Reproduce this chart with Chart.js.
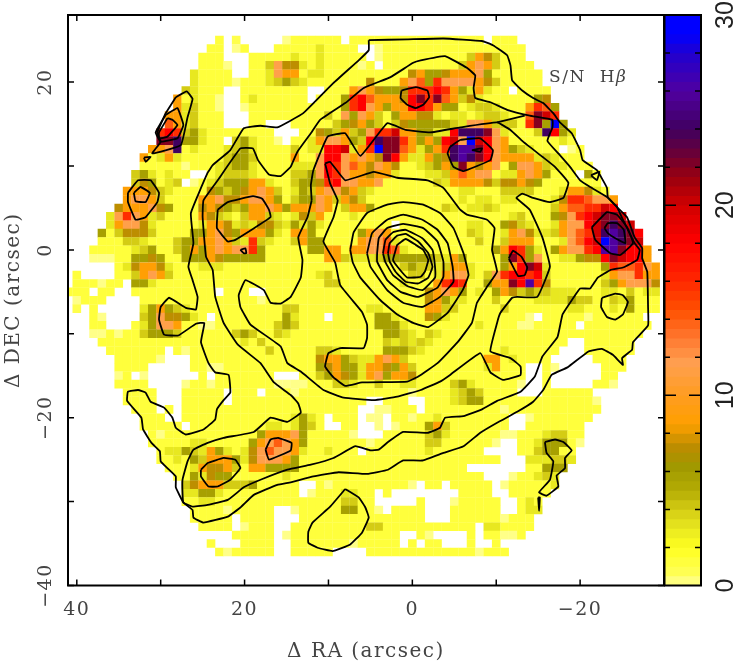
<!DOCTYPE html>
<html>
<head>
<meta charset="utf-8">
<title>S/N Hbeta</title>
<script src="https://cdn.jsdelivr.net/npm/chart.js@4/dist/chart.umd.min.js"></script>
<style>
body { margin: 0; background: #fff; }
#wrap { position: relative; width: 734px; height: 664px; }
canvas { position: absolute; top: 0; }
</style>
</head>
<body>
<div id="wrap">
<canvas id="map" width="734" height="664" style="left:0"></canvas>
<canvas id="bar" width="70" height="664" style="left:664px"></canvas>
</div>
<script>
// S/N levels, one letter per spaxel
const levelKeys = "abcdefghijklmnopq";
const levelValues = [0.2, 0.9, 1.3, 3, 4, 5.8, 7.3, 8.7, 11.5, 14, 15.8, 18, 20, 22, 24, 26, 29];

const firstRa = 41;
const firstDec = 25;
// rows run from DEC 25 down to -36, columns from RA 41 down to -29
const snRows = [
"... .......... .....c.b.. ...acccccc .ccccccccc ccccccc.cc c",
"... .......... ....cc.ac. ..cccccdcc cc..accccc cccccccccc cc",
"... .......... ...ccc...c ccccdccdcc ccc.accccc cccccehgec cc",
"... .......... ...ccca..c ceiggdcdcc ccac.ccccc ccccehihec ccc",
"... .......... ..dcccc..c cdihhcddcc ccccccccgh ffghhhifcc cccc",
"... .......... ..dccccacc cdefedcccc cccgccchij fkiiiihgec cccc",
"... .......... .edccc..cc cccccc..cc chihgffgkk klkhfdhdcc .cccc",
"... .......... hcdcca..cd cccccc.ccc fkljhhhgln knjhegdccc cccfg",
"... .......... hdecca..ac cccccccccc fklihfhhll khffcdeedc cchkjf",
"... .........h hdeccc...c ccccccccec ifihecfhhg gdcddcdeed ccjnmk",
"... .........j hdeccc...c c...ccccce fghfecegff fffediihee ecknfqf",
"... ........kl kefdcccccc cc...ccgfe hefikkmhhf fddlooonid ccceolfd",
"... ........nn offdcc.efd cca.ccdhii hfelonnkhf hflmiqmlih ccccccdc",
"... .......hhi ocdcccdefd ccccecddll mdhkqnnjhd fhkoppnlih fedccc.ac",
"... ......hcdh dccccceffe cccchccill ihihgnlhdd hfgoponlih hhhdedccc",
"... ......cccc cacccdeffd ccccdddilk ijhgihgccd efhfnhghic fiiheddccc",
"... .....efdcd cc..cdeeed cccceefilk ihhghhdccc ddehjhiicd dhihfccc.f c",
"... .....egfcd e.acdefffh hdcceffgkl iihhiccccc cedhhhhgeg ghgfcccccc c",
"... ....hhhged ccccgfefgh ihecdfehii ghedcccccc ccccddccce eeecccdhhg dc",
"... ....hiihec ccchhigghi ihfceffihe hgeccccccc ccccdcddcd dccccdgkkj iih",
"... ...ghhhigf cccghgfefh hihfhhhihc ehhfcccccc ccedcddedc cccccehjjk kml",
"... ..dikihdec ccchgedceh hedcdgehcc cdcccccccc cccccccccc decccfgikl mnnm",
"... ..dhiigdcc cccdhhgded ggedfdfdcc cccccc.ccc cccccddccf gedccdhiil mnonm",
"... .fcegggecc ccffhigfhh hfdchhfccc ccfhihcccc cccccedccd higddehijk moponl",
"... .ccceedccc effhhihedk edccehffcc cchiijdccc ccccccecce hhhcccdijl mqponm",
"... cccccdefcc efhfhihiik fcccccffhh chhiikjdcc ccccccccfh lkfdcfhiik lppnllh",
"... aaaccffgfc cfffhgffff fccccccchh edddefffff fedhfccccf nkficcddfg glnmllh",
"... ...cdghhgd cccdddcccc cccccccccc cccccccefe edehhdcccf hlnmdccccc cfkjjkih",
".c. ...ccehihe cccccccccc cccccccdec ccccccccee cdhiidceik llkleccccc cdhiikhh",
".cc cacc.ffdcc cccccccccc ccccccccee cccccccdcc chklkccfhh nlpkgccccc cefhiiig",
"ccc .cc..ccccc ccccc.ccc. .ccccccccc cccccccccc ghihfcdcfh gefeedddcc cddcecdd",
".ac cc....cccc cccccccccc accccccccc cccccccccc ghfddcccec cccddddfee ccedfccc",
".b. c.....dfhf edcccccccc ccceeccccc cccddccccc hheeccccce cccccccddc ccdcfccc",
"... ca....efig gfdc.ccccc cccfdccc.c ccccffdccc gfdccccccc cca.ccccca cccccc",
"... cc...cdfii hccaaccccc ccefeccccc ccccfffdcc ccccccdccc caaccccc.c ccccccc",
"... aacaccefff eccccccefe ccedcccccc cccccffedc edcccccccc cccccccccc cccccc",
"... .ccccccccc ccccccccdc eccccccccc cccccedede dccccccccc ccccccc..c ccccc",
"... ..ccccccc. cacccccccc ceccccceed cccccfffed cccccccccd cccccc...c ccccc",
"... ...ccccca. ..cccccccc cccccccghh feddhihecc ccccccchhc dcccc..... cccc",
"... ...cccc... ..ccaacccc cccccccfgh ffdhhgfhec cccccccdhc cc..ca.... .ccc",
"... ...ac.a... ...c.ccccc cc...ccefh gfdhifhhgc cccccccccc cc..c..... .cc",
"... ...cccc... .accaccccc ccaaaaccce edcceccddc cccefdcccc ca..c..... cca",
"... ....cccc.. .ccccc.ccc .cccaccccc ccccccccac cccdefeccc c...cccccc",
"... ....cccc.. .ccccc.ccc cccccccccc ccc..ccc.. cccdeffccc cccccccccc a",
"... .....ccc.c .ccccccccc cccccccccc cc..aaccc. ccccccccca cccccccccc c",
"... ......ccc. .ccccccccc ccccdfdc.c cc.aa.ccac cdcccccccc ..accccccc",
"... ......cccc c.cccccccc cddcdfec.. cc..a.accc fheccccccc ..ccccccc.",
"... .......cac cccccccccc fhhhifcccc ca...ccccc efdcccccca acccdeecc.",
"... .......ccc ccddcccccf hijihfcccc cccacccccc eecccccca. .ccdfffca.",
"... ........cd dfedhfdcdg ijiihdccdc cc.ccccccc dcccccc... .cceffcc..",
"... ........cc dcfehhhfdg iiihfccccc cccccccccc ccccccccc. ..dddeed..",
"... .........c ccdhgghech hffffccccc cccccccccc ccccc..... ..ccfff...",
"... .......... ccfdgffccc cccdcccccc cccccccccc ccccccc... accded....",
"... .......... .eghhheeef ccccc..cac cccccccca. cc.ccccc.a cccccd....",
"... .......... .ddffdcccc ccccc.accc ddcc.c.... ....cccc.. ccccc.....",
"... .......... .ccddccccc cccccccccc eecc.....c ...accccc. .cdc......",
"... .......... ..ccccaccc cc..accccc ffcca.cccc ...cccccc. .cdd......",
"... .......... ..ccccc.cc cc...ccccc cccccccccc ...cccccca ccc.......",
"... .......... ...cccc.ac cc..cccccc ccceeccccc cccccc.ddc ccc.......",
"... .......... .......ccc cc.acccccc ccccccc..c a....c.cca ac........",
"... .......... ....c...cc cc..cccccc caccccc.c. cc...c..c. ..........",
"... .......... .....caccc cc..ccccc. ...ccccccc ccccccaccc .........."
];

// contours, RA then DEC pairs in arcsec
const contourOuter = [5.2,25, 0.6,25.1, -3.7,25.2, -8.3,24.9, -9.6,24.4, -11.3,23.2, -11.7,22, -11.9,20.2, -13.1,19, -14.4,18.1, -15.6,17.5, -16.8,16.3, -17.6,15.2, -19,13.9, -20,11.9, -20.3,10.7, -22,9.5, -23.2,7.4, -23.3,6.3, -24.4,5.1, -25.6,3.9, -26.5,1.5, -27.4,0.2, -27.4,-1, -28,-2.6, -28.1,-6.8, -28.1,-9, -26.3,-11, -26.2,-11.9, -25,-12.9, -25.1,-13.7, -23.9,-12.5, -22.6,-11.8, -21,-12.1, -18.5,-14, -16.6,-14.9, -15.6,-16.7, -14.4,-18.1, -12.5,-19.3, -10.1,-20.6, -8.1,-21.8, -6.1,-23.4, -3.7,-24.2, -1.2,-25.1, 1.1,-25.1, 2.9,-26.2, 5.4,-26.7, 8.8,-26.5, 11.8,-27, 14.5,-27.7, 16.1,-28, 18.9,-29.2, 20.5,-30.7, 22,-31.8, 24.9,-32.5, 26.1,-31.9, 26.2,-31, 27.3,-30.1, 28.2,-28.3, 28.2,-27, 29.2,-26, 30,-25.2, 30.1,-24, 31.1,-23, 32.1,-21.4, 32.3,-20, 34,-18, 33.9,-16.9, 32.7,-16.7, 31.8,-17, 31.2,-18.1, 29.6,-18.8, 28.6,-20, 28.2,-21.2, 27,-22, 24.9,-21.4, 23.5,-20.2, 23.3,-19, 22.5,-17.9, 21.7,-17, 21.9,-14.9, 23.5,-14.6, 24.3,-13.5, 25.2,-11, 24.8,-8.7, 25.8,-8.8, 27.9,-10.2, 29.6,-10.1, 30.2,-8.3, 30,-6.8, 29,-5.7, 27,-6.9, 25.8,-7.1, 25.6,-5.6, 26.2,-3.6, 26.7,-2, 26.1,0.8, 26.4,4.4, 24.4,9.2, 23.8,10.1, 21.7,11.9, 20.1,14.5, 18.1,14.8, 16.1,14.6, 13,16.3, 9.4,19.9, 6.4,22.6, 5.2,23.8];
const contourSecond = [14.5,9.9, 13.7,11.7, 12.1,13.9, 11,15.5, 8,17.5, 5.8,19.3, 2.6,20.6, -0.1,22.3, -1,22.6, -3.9,23.1, -6.5,21.7, -7.5,20.8, -7.3,19.3, -7.5,18.1, -9.3,17.6, -11.3,16.7, -14,16, -16.7,15.5, -16.7,14.6, -16.1,13, -17.4,11.5, -18.8,9.9, -20,8.3, -21.2,7.5, -23.2,6.3, -24.4,5.1, -25.1,3.6, -26.5,0.8, -27.1,0, -26.8,-1.2, -25.1,-2.1, -23.6,-2.4, -22.1,-3.3, -21.2,-4.6, -20,-4.6, -19,-6, -17.9,-7.7, -17.3,-10.4, -15.5,-12.7, -14.6,-15.1, -12.9,-16.9, -10.1,-18, -8.3,-19, -6.1,-19.8, -3.9,-20, -3.3,-21.2, -1.8,-21.8, 1.1,-21.7, 2.9,-22.9, 4,-23.8, 5,-23.9, 6.8,-23.4, 9.4,-24.8, 12.1,-25.6, 14.9,-26.2, 18.1,-27.4, 20.1,-28.3, 22,-29.8, 24.4,-30.4, 26.2,-30.6, 27.3,-30.1, 27.4,-28.9, 27.4,-27.4, 26.8,-25.2, 26.1,-23.8, 24.4,-23, 22.5,-22.4, 18.9,-21.7, 16.9,-20, 14.9,-20.5, 13.3,-19.4, 13.6,-18.3, 14.5,-17.3, 16.5,-15.8, 18.1,-13.5, 20.8,-11.3, 22.5,-8.7, 23.5,-5.6, 23.8,-2.4, 24.6,-0.8, 25,3.9, 24.9,5.9, 23.2,8.3, 20.5,12.1, 19,12.1, 18.4,10.7, 17.1,9, 15.7,8.8];
const contourThird = [12,5.9, 12.5,3.9, 13.6,1.5, 13.1,-1.2, 13.3,-3.3, 14.5,-5.6, 15.7,-6.4, 16.9,-6.3, 17.7,-4.8, 19.9,-3.6, 20.7,-5.4, 20.5,-6.8, 19.3,-8.9, 15.7,-11.5, 14.9,-13.5, 13.3,-14.5, 10.6,-16.7, 8.2,-17.6, 4.6,-17.9, 1.8,-17.5, -1,-16.7, -3.3,-15.7, -4.5,-14.9, -8.1,-12.3, -9.3,-14.6, -10.8,-15.5, -12.9,-14.9, -12.9,-13.9, -11.7,-12.9, -9.3,-12.1, -10.1,-8.7, -10.5,-7.5, -11.9,-5.7, -12.5,-5.6, -14.9,-5.6, -16.4,-2, -15.5,1.5, -14,4.8, -12.4,6.2, -13.1,6.7, -14.4,6.2, -16.4,5.7, -18,6.2, -18.6,8, -17,9.9, -15.5,11.1, -13.2,12.9, -11.7,14.3, -10.1,15.2, -5.7,14.6, -2.1,14, 0.8,14.3, 3,15.1, 6.2,11.2, 8,13.9, 10.1,13.5, 11.8,9.5, 12.1,7.7];
const contourSpiral = [10.4,10.3, 9.8,10.5, 8,8.3, 4.6,9.3, 1.8,8.6, -1.8,8.3, -3.7,7.4, -5.7,4.8, -6.5,4.2, -8.9,3.6, -9.8,2.6, -9.5,0, -10.1,-2.6, -8.9,-4.4, -7.7,-6.3, -7.1,-8.7, -5.4,-11, -3,-13.5, -0.7,-15.1, 0.6,-15.7, 6,-15.8, 8,-16.2, 9.4,-15.2, 10.4,-13.9, 10,-12.3, 8.6,-11.7, 5.8,-11.7, 5.4,-10.5, 5.4,-8.9, 6,-7.4, 8.6,-4.2, 9.2,-1.5, 10.6,1, 9.4,3.9, 8.9,5.9, 9.8,7.9];
const ring1 = [7.4,0, 7,2.1, 5.4,4.4, 3,5.4, 1.1,5.7, -1.3,5.4, -3.3,4.4, -4.9,2.6, -6.1,-0.4, -6.7,-3, -6,-4.8, -4.2,-7.5, -1.9,-9.2, -0.1,-8.7, 1.8,-7.7, 3.8,-6, 6.2,-3.3, 7.1,-1.5];
const ring2 = [5.4,-0.4, 4.8,2, 3,3.6, 1.1,4.2, -1.2,3.6, -3,2.4, -4.2,0.8, -4.8,-2, -4.9,-3.8, -3.3,-5.6, -1.2,-6.8, 1.1,-6.3, 3,-4.8, 5,-2];
const ring3 = [4.2,-0.4, 4,1.4, 3,2.6, 1.1,3.1, -1.3,2.6, -3,1, -3.7,-1.4, -3.7,-3.2, -3,-4.5, -0.7,-5.6, 1.4,-5, 3,-3.6, 4.2,-1.4];
const ring4 = [3.5,-0.4, 3.2,1.2, 2.3,2.1, 0.8,2.4, -1.2,1.4, -2.4,0, -2.7,-2, -2.7,-3.3, -1.2,-4.8, 0.6,-4.3, 2.3,-3, 3.2,-1.5];
const ring5 = [2.9,-0.4, 2.7,0.8, 1.8,1.7, 0.8,1.9, -0.7,1, -1.9,-0.4, -2.4,-2, -1.9,-3.3, -0.7,-4, 0.8,-3.8, 2,-2.6, 2.7,-1.4];
const ring6 = [2.1,-0.4, 1.8,0.6, 0.8,1.3, -0.4,0.6, -1.3,0, -1.9,-1.2, -1.5,-2.6, -1,-3.2, 0.6,-3.3, 1.7,-2.1, 2.3,-1.2];
const knotTop = [1.3,19, -0.4,19.4, -1.8,19, -2,18.2, -1.3,17.3, -0.4,16.9, 0.6,17.3, 1.4,18.1];
const knotNorth = [-4.5,12.3, -5.7,13.1, -8.1,13.3, -9.6,11.9, -9.3,10.7, -6.1,9.4, -4.9,9.9, -4.2,11.5];
const knotNorthIn = [-7.1,11.9, -8.3,12.1, -8.1,11.7];
const edgeA = [28.2,18.2, 29.4,16.3, 30.4,14, 30,12.9, 31,11.5, 27.6,12.5, 26.8,15.8, 26.2,18, 26.9,18.9];
const edgeB = [29.4,16.1, 28,16.9, 27.3,14.9, 28,13.3, 30,12.9, 30.6,14];
const edgeC = [29.2,15.7, 28.6,15.5, 28,14.9, 29.2,13.5, 30.2,13.3, 30.2,14];
const edgeD = [32,11, 31.2,11.1, 31.8,10.5];
const leftA = [33.9,6.8, 32.7,8.3, 31.2,8.3, 30.2,6.8, 30.4,5.7, 31.8,3.9, 33,3.6, 33.9,5.7];
const leftB = [33.2,6.8, 32.4,7.5, 31.3,6.8, 31.8,5.7, 33,5.8];
const armA = [23.2,4.8, 22,5.7, 19,6.4, 17.9,6.1, 17.1,4.8, 16.9,3.9, 21.1,1.2, 22,1, 23.3,2.6];
const armB = [20.5,0, 19.9,0.2, 19.8,-0.4, 20.1,-0.4];
const eastKnot = [-11.5,-1, -12,-0.1, -13,-0.8, -13.7,-2.1, -13.4,-3, -12.6,-3.1, -12,-2];
const brightA = [-21.4,2.7, -23.2,4.5, -24.4,4.2, -25.6,2.7, -26.3,0.8, -24.8,-0.6, -23.6,-0.4, -21.8,1.2];
const brightB = [-22.9,2.6, -23.3,3.2, -24.4,3.2, -25.2,2.4, -25.4,0.8, -24.2,1.4, -23.3,2];
const westLoop = [-22.6,-5.7, -24.2,-5.2, -25.1,-5.4, -25.7,-6.2, -25.1,-7.7, -24.2,-8.3, -23.2,-8, -22.5,-6.8];
const tinyWest = [-21.3,8.9, -22.3,9.3, -22,8.3];
const southA = [25.2,-26.2, 24.4,-25.4, 22.5,-24.8, 21.1,-25, 20.5,-26, 21.7,-27.4, 23.2,-28.2, 24.3,-28.2, 25.2,-27];
const southB = [17.5,-23.8, 16.9,-22.6, 16,-22.4, 14.4,-23, 14.5,-23.9, 17.1,-25];
const southLoop = [8,-28.5, 6.4,-29.5, 5.6,-30.7, 5.2,-31.9, 6,-33.7, 7.4,-35.1, 9.5,-35.9, 11.3,-35.5, 12.4,-34.9, 12.4,-33.6, 11.9,-32.5, 9.8,-30.6];
const southWest = [-15.8,-22.9, -17,-22.6, -18,-22.9, -19,-23.9, -18.2,-24.8, -18.2,-26, -17.2,-26.9, -17.4,-28.2, -16,-29.3, -15.1,-28.9, -16.4,-27.4, -16.8,-25.2, -16,-24.2];
const sliver = [-15,-29.5, -15.2,-29.5, -15.1,-31.1];
const spur = [-10.1,15.2, -13.4,16];

const contours = [contourOuter, contourSecond, contourThird, contourSpiral, ring1, ring2, ring3, ring4, ring5, ring6,
  knotTop, knotNorth, knotNorthIn, edgeA, edgeB, edgeC, edgeD, leftA, leftB, armA, armB, eastKnot,
  brightA, brightB, westLoop, tinyWest, southA, southB, southLoop, southWest, sliver];

const raTicks = [-30, -20, -10, 0, 10, 20, 30, 40];
const decTicks = [-40, -30, -20, -10, 0, 10, 20];

// colour table
const cmapValues = [0, 0.4, 2, 3, 4, 5, 6.2, 7.2, 8, 8.5, 10, 11.7, 13, 14.5, 16, 18, 20, 21.5, 23, 24, 26, 28, 29, 30];
const cmapColors = ["#ffffb0", "#ffff60", "#ffff20", "#e8e820", "#d4cc14", "#b4ac04", "#a09a00", "#b88c00", "#e09800", "#ffa000", "#ff9c20", "#ffa050", "#ff7830", "#ff5000", "#ff2800", "#ff0000", "#d00000", "#980010", "#600040", "#400060", "#5000a0", "#2000d0", "#0000ff", "#0000ff"];

const wedgeLevels = [0,0.5,1,1.5,2,2.5,3,3.5,4,4.5,5,5.5,6,6.5,7,7.5,8,8.5,9,9.5,10,10.5,11,11.5,12,12.5,13,13.5,14,14.5,15,15.5,16,16.5,17,17.5,18,18.5,19,19.5,20,20.5,21,21.5,22,22.5,23,23.5,24,24.5,25,25.5,26,26.5,27,27.5,28,28.5,29,29.5];

function hexToRgb(h) {
  return [parseInt(h.slice(1, 3), 16), parseInt(h.slice(3, 5), 16), parseInt(h.slice(5, 7), 16)];
}

function colorFor(v) {
  let i = 0;
  while (i < cmapValues.length - 2 && v > cmapValues[i + 1]) i++;
  const t = Math.min(1, Math.max(0, (v - cmapValues[i]) / (cmapValues[i + 1] - cmapValues[i])));
  const a = hexToRgb(cmapColors[i]);
  const b = hexToRgb(cmapColors[i + 1]);
  return "rgb(" + a.map((c, k) => Math.round(c + (b[k] - c) * t)).join(",") + ")";
}

const cells = [];
const cellColors = [];
snRows.forEach(function (row, r) {
  row.replace(/ /g, "").split("").forEach(function (ch, c) {
    const k = levelKeys.indexOf(ch);
    if (k < 0) return;
    cells.push({ x: firstRa - c, y: firstDec - r });
    cellColors.push(colorFor(levelValues[k]));
  });
});

function pairs(list, closed) {
  const pts = [];
  for (let i = 0; i < list.length; i += 2) pts.push({ x: list[i], y: list[i + 1] });
  if (closed) pts.push(pts[0]);
  return pts;
}

function signed(v) {
  return v < 0 ? "\u2212" + Math.abs(v) : String(v);
}

const darkText = "#444";
const serif = "'DejaVu Serif', serif";

const contourSets = contours.map(function (c) {
  return { data: pairs(c, true), showLine: true, borderColor: "#000", borderWidth: 1.8, pointRadius: 0, tension: 0.1, order: 0 };
});
contourSets.push({ data: pairs(spur, false), showLine: true, borderColor: "#000", borderWidth: 1.8, pointRadius: 0, order: 0 });

const framePlugin = {
  id: "frame",
  beforeDraw(chart) {
    chart.ctx.letterSpacing = "1.5px";
  },
  afterDraw(chart) {
    const ctx = chart.ctx;
    const a = chart.chartArea;
    ctx.save();
    ctx.strokeStyle = "#000";
    ctx.lineWidth = 1.5;
    ctx.beginPath();
    chart.scales.x.ticks.forEach(function (t) {
      const p = chart.scales.x.getPixelForValue(t.value);
      ctx.moveTo(p, a.top); ctx.lineTo(p, a.top + 6);
      ctx.moveTo(p, a.bottom); ctx.lineTo(p, a.bottom - 6);
    });
    chart.scales.y.ticks.forEach(function (t) {
      const p = chart.scales.y.getPixelForValue(t.value);
      ctx.moveTo(a.left, p); ctx.lineTo(a.left + 6, p);
      ctx.moveTo(a.right, p); ctx.lineTo(a.right - 6, p);
    });
    ctx.stroke();
    ctx.lineWidth = 2;
    ctx.strokeRect(a.left, a.top, a.right - a.left, a.bottom - a.top);

    // label inside the map
    const lx = chart.scales.x.getPixelForValue(-16.3);
    const ly = chart.scales.y.getPixelForValue(20.6);
    ctx.fillStyle = "#444";
    ctx.textBaseline = "middle";
    ctx.font = "17px " + serif;
    ctx.fillText("S/N  H", lx, ly);
    const w = ctx.measureText("S/N  H").width;
    ctx.font = "italic 17px " + serif;
    ctx.fillText("\u03b2", lx + w, ly);
    ctx.restore();
  }
};

new Chart("map", {
  type: "scatter",
  data: {
    datasets: contourSets.concat([{
      data: cells,
      pointStyle: "rect",
      pointRadius: 6.1,
      pointBorderWidth: 0,
      pointBackgroundColor: cellColors,
      order: 1
    }])
  },
  options: {
    responsive: false,
    animation: false,
    events: [],
    layout: { padding: { top: 15, right: 70 } },
    plugins: { legend: { display: false }, tooltip: { enabled: false } },
    scales: {
      x: {
        type: "linear",
        reverse: true,
        min: -30,
        max: 41.05,
        afterFit: function (s) { s.height = 78.5; s.paddingLeft = 0; s.paddingRight = 0; },
        afterBuildTicks: function (s) { s.ticks = raTicks.map(v => ({ value: v })); },
        grid: { display: false },
        border: { display: false },
        ticks: {
          autoSkip: false,
          maxRotation: 0,
          padding: 5,
          color: darkText,
          font: { family: serif, size: 19 },
          callback: v => (v % 20 === 0 ? signed(v) : "")
        },
        title: { display: true, text: "\u0394 RA (arcsec)", color: darkText, padding: { top: 0, bottom: 0 }, font: { family: serif, size: 20 } }
      },
      y: {
        type: "linear",
        min: -40,
        max: 28,
        afterFit: function (s) { s.width = 68; s.paddingTop = 0; s.paddingBottom = 0; },
        afterBuildTicks: function (s) { s.ticks = decTicks.map(v => ({ value: v })); },
        grid: { display: false },
        border: { display: false },
        ticks: {
          autoSkip: false,
          minRotation: 90,
          maxRotation: 90,
          crossAlign: "center",
          padding: -6,
          color: darkText,
          font: { family: serif, size: 19 },
          callback: v => (v % 20 === 0 ? signed(v) : "")
        },
        title: { display: true, text: "\u0394 DEC (arcsec)", color: darkText, padding: { top: 2, bottom: 0 }, font: { family: serif, size: 20 } }
      }
    }
  },
  plugins: [framePlugin]
});

const wedgePlugin = {
  id: "wedgeTicks",
  afterDraw(chart) {
    const ctx = chart.ctx;
    const a = chart.chartArea;
    const y = chart.scales.y;
    ctx.save();
    ctx.strokeStyle = "#000";
    ctx.lineWidth = 1.5;
    ctx.beginPath();
    y.ticks.forEach(function (t) {
      const p = y.getPixelForValue(t.value);
      const len = t.value % 10 === 0 ? 12 : 6;
      if (t.value === 0 || t.value === 30) return;
      ctx.moveTo(a.left, p); ctx.lineTo(a.left + len, p);
      ctx.moveTo(a.right, p); ctx.lineTo(a.right - len, p);
    });
    ctx.stroke();
    ctx.lineWidth = 2;
    ctx.strokeRect(a.left + 0.5, a.top, a.right - a.left - 0.5, a.bottom - a.top);
    ctx.restore();
  }
};

new Chart("bar", {
  type: "bar",
  data: {
    labels: ["S/N"],
    datasets: wedgeLevels.map(function (v) {
      return { data: [[v, v + 0.6]], backgroundColor: colorFor(v + 0.25), borderWidth: 0, barPercentage: 1, categoryPercentage: 1, grouped: false, order: -v };
    })
  },
  options: {
    responsive: false,
    animation: false,
    events: [],
    layout: { padding: { top: 15, bottom: 78.5 } },
    plugins: { legend: { display: false }, tooltip: { enabled: false } },
    scales: {
      x: { display: false },
      y: {
        position: "right",
        min: 0,
        max: 30,
        afterFit: function (s) { s.width = 33; s.paddingTop = 0; s.paddingBottom = 0; },
        grid: { display: false },
        border: { display: false },
        ticks: {
          stepSize: 2,
          autoSkip: false,
          minRotation: 90,
          maxRotation: 90,
          crossAlign: "center",
          padding: 3,
          color: "#222",
          font: { family: "'Liberation Sans', sans-serif", size: 25 },
          callback: v => (v % 10 === 0 ? String(v) : "")
        }
      }
    }
  },
  plugins: [wedgePlugin]
});
</script>
</body>
</html>
